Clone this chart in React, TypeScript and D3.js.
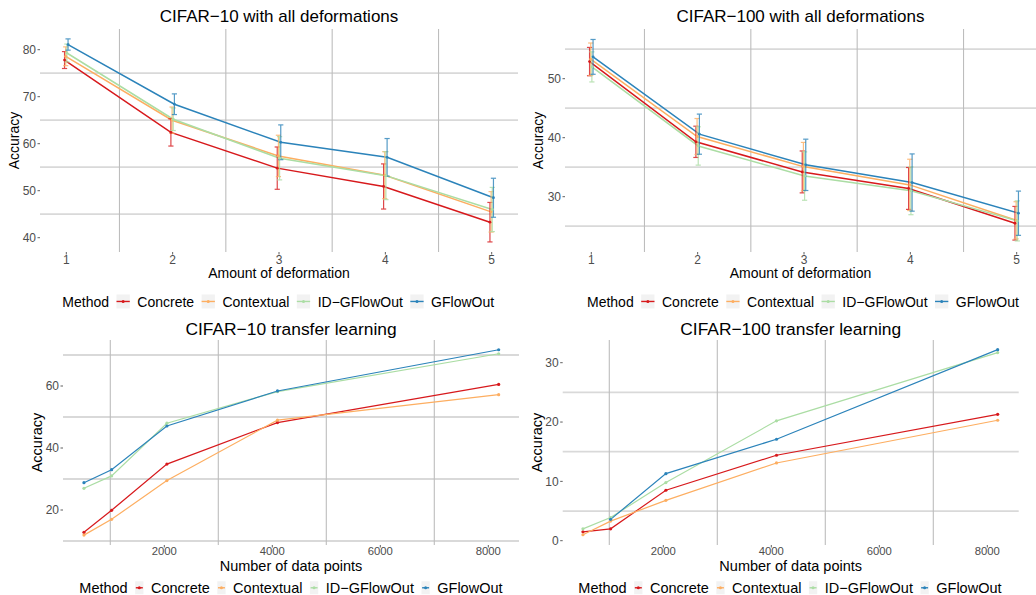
import React from "react";
import * as d3 from "d3";

// ---------- data ----------
const methods = ["Concrete", "Contextual", "ID\u2212GFlowOut", "GFlowOut"];
const methodColors = ["#D7191C", "#FDAE61", "#ABDDA4", "#2B83BA"];

const deformationLevels = [1, 2, 3, 4, 5];
const deformationTicks = [1, 2, 3, 4, 5];

// CIFAR-10 with all deformations (mean, half-width of error bar)
const c10DefConcrete = [77.8, 62.4, 54.8, 50.9, 43.3];
const c10DefContextual = [78.6, 65.0, 57.4, 53.3, 45.5];
const c10DefIDGFlowOut = [79.3, 65.2, 56.9, 53.2, 46.0];
const c10DefGFlowOut = [81.1, 68.4, 60.3, 57.1, 48.5];
const c10DefErrConcrete = [1.8, 2.9, 4.5, 4.8, 4.2];
const c10DefErrContextual = [2.0, 2.8, 4.4, 5.0, 4.3];
const c10DefErrIDGFlowOut = [1.9, 2.4, 4.6, 5.1, 4.7];
const c10DefErrGFlowOut = [1.2, 2.2, 3.7, 4.0, 4.15];

// CIFAR-100 with all deformations
const c100DefConcrete = [52.9, 39.3, 34.2, 31.4, 25.5];
const c100DefContextual = [53.3, 40.2, 35.1, 32.0, 26.0];
const c100DefIDGFlowOut = [52.0, 38.6, 33.5, 31.0, 25.9];
const c100DefGFlowOut = [53.7, 40.6, 35.4, 32.4, 27.2];
const c100DefErrConcrete = [2.4, 2.65, 3.55, 3.55, 2.85];
const c100DefErrContextual = [2.75, 3.05, 4.1, 4.35, 3.15];
const c100DefErrIDGFlowOut = [2.55, 3.25, 4.1, 4.05, 3.4];
const c100DefErrGFlowOut = [2.95, 3.4, 4.35, 4.85, 3.75];

// Transfer learning
const dataPoints = [512, 1024, 2048, 4096, 8192];
const dataPointTicks = [2000, 4000, 6000, 8000];

const c10TrConcrete = [12.8, 19.9, 34.8, 48.2, 60.5];
const c10TrContextual = [11.9, 17.0, 29.5, 49.0, 57.2];
const c10TrIDGFlowOut = [27.0, 31.0, 48.0, 58.2, 70.4];
const c10TrGFlowOut = [28.8, 33.0, 47.1, 58.4, 71.7];

const c100TrConcrete = [1.5, 2.0, 8.5, 14.4, 21.3];
const c100TrContextual = [1.0, 3.3, 6.8, 13.1, 20.3];
const c100TrIDGFlowOut = [2.0, 3.9, 9.8, 20.2, 31.7];
const c100TrGFlowOut = [null, 3.6, 11.3, 17.1, 32.2];

const c10DefYTicks = [40, 50, 60, 70, 80];
const c100DefYTicks = [30, 40, 50];
const c10TrYTicks = [20, 40, 60];
const c100TrYTicks = [0, 10, 20, 30];

const deformGrid = [1.5, 2.5, 3.5, 4.5];
const transferGrid = [1000, 3000, 5000, 7000];
const c10DefHGrid = [45, 55, 65, 75];
const c100DefHGrid = [25, 35, 45, 55];
const c10TrHGrid = [10, 30, 50, 70];
const c100TrHGrid = [5, 15, 25];

const titles = [
  "CIFAR\u221210 with all deformations",
  "CIFAR\u2212100 with all deformations",
  "CIFAR\u221210 transfer learning",
  "CIFAR\u2212100 transfer learning",
];

// ---------- helpers ----------
const FONT = '"Liberation Sans", Arial, Helvetica, sans-serif';
let measureCtx: CanvasRenderingContext2D | null = null;
function textWidth(s: string, size: number) {
  if (!measureCtx) measureCtx = document.createElement("canvas").getContext("2d");
  if (!measureCtx) return s.length * size * 0.55;
  measureCtx.font = `${size}px ${FONT}`;
  return measureCtx.measureText(s).width;
}

type Series = { name: string; color: string; values: (number | null)[]; err?: number[] };

function Legend({ x, baseline, size, keyW, keyH, lineLen }: any) {
  const gap = 7.5;
  let cur = x;
  const items: any[] = [];
  const mW = textWidth("Method", size);
  items.push(
    <text key="m" x={cur} y={baseline} fontSize={size} fill="#000">Method</text>
  );
  cur += mW + gap;
  methods.forEach((m, i) => {
    const kx = cur;
    const cy = baseline - size * 0.36;
    items.push(
      <g key={m}>
        <rect x={kx} y={cy - keyH / 2} width={keyW} height={keyH} fill="#f2f2f2" />
        <line x1={kx + keyW / 2 - lineLen / 2} x2={kx + keyW / 2 + lineLen / 2} y1={cy} y2={cy}
          stroke={methodColors[i]} strokeWidth={1.4} />
        <circle cx={kx + keyW / 2} cy={cy} r={1.5} fill={methodColors[i]} />
        <text x={kx + keyW + gap} y={baseline} fontSize={size} fill="#000">{m}</text>
      </g>
    );
    cur = kx + keyW + gap + textWidth(m, size) + gap;
  });
  return <g>{items}</g>;
}

function Panel(p: any) {
  const x = d3.scaleLinear().domain(p.xCal).range(p.xPx);
  const y = d3.scaleLinear().domain(p.yCal).range(p.yPx);
  const series: Series[] = p.series;
  const n = series.length;
  const dodge = p.dodge || 0;
  const off = (i: number) => (i - (n - 1) / 2) * dodge;
  const cx = (p.x0 + p.x1) / 2;
  const cyTitle = (p.y0 + p.y1) / 2;
  const fmt = d3.format("d");
  return (
    <g fontFamily={FONT}>
      {/* gridlines */}
      {p.hGrid.map((v: number) => (
        <line key={"h" + v} x1={p.x0} x2={p.x1} y1={y(v)} y2={y(v)} stroke="#d9d9d9" strokeWidth={1.8} />
      ))}
      {p.vGrid.map((v: number) => (
        <line key={"v" + v} x1={x(v)} x2={x(v)} y1={p.y0} y2={p.y1} stroke="#bdbdbd" strokeWidth={1.1} />
      ))}
      {/* ticks */}
      {p.yTicks.map((v: number) => (
        <g key={"yt" + v}>
          <line x1={p.x0 - 2.5} x2={p.x0} y1={y(v)} y2={y(v)} stroke="#4d4d4d" strokeWidth={0.9} />
          <text x={p.x0 - 4} y={y(v)} dy="0.36em" textAnchor="end" fontSize={12} fill="#4d4d4d">{fmt(v)}</text>
        </g>
      ))}
      {p.xTicks.map((v: number) => (
        <g key={"xt" + v}>
          <line x1={x(v)} x2={x(v)} y1={p.y1} y2={p.y1 + 2.5} stroke="#4d4d4d" strokeWidth={0.9} />
          <text x={x(v)} y={p.y1 + p.xTickDy} textAnchor="middle" fontSize={p.xTickSize} fill="#4d4d4d">{fmt(v)}</text>
        </g>
      ))}
      {/* series lines */}
      {series.map((s, i) => {
        const pts = p.xs.map((xv: number, j: number) => [x(xv + off(i)), s.values[j] == null ? null : y(s.values[j] as number)]);
        const line = d3.line<any>().defined((d) => d[1] != null).x((d) => d[0]).y((d) => d[1]);
        return <path key={"l" + i} d={line(pts) || ""} fill="none" stroke={s.color} strokeWidth={p.lineWidth} />;
      })}
      {/* error bars */}
      {series.map((s, i) =>
        s.err ? (
          <g key={"e" + i} stroke={s.color} strokeWidth={1.2} opacity={0.8}>
            {p.xs.map((xv: number, j: number) => {
              const v = s.values[j] as number;
              const e = s.err![j];
              const px = x(xv + off(i));
              return (
                <g key={j}>
                  <line x1={px} x2={px} y1={y(v - e)} y2={y(v + e)} />
                  <line x1={px - 2.6} x2={px + 2.6} y1={y(v - e)} y2={y(v - e)} />
                  <line x1={px - 2.6} x2={px + 2.6} y1={y(v + e)} y2={y(v + e)} />
                </g>
              );
            })}
          </g>
        ) : null
      )}
      {/* points */}
      {series.map((s, i) => (
        <g key={"p" + i} fill={s.color}>
          {p.xs.map((xv: number, j: number) =>
            s.values[j] == null ? null : (
              <circle key={j} cx={x(xv + off(i))} cy={y(s.values[j] as number)} r={p.pointR} />
            )
          )}
        </g>
      ))}
      {/* titles */}
      <text x={cx} y={p.titleY} textAnchor="middle" fontSize={p.titleSize} fill="#000">{p.title}</text>
      <text x={cx} y={p.xTitleY} textAnchor="middle" fontSize={p.axisSize} fill="#000">{p.xTitle}</text>
      <text transform={`translate(${p.yTitleX},${cyTitle}) rotate(-90)`} textAnchor="middle" fontSize={p.axisSize} fill="#000">Accuracy</text>
      <Legend {...p.legend} />
    </g>
  );
}

function mk(vals: (number | null)[][], errs?: number[][]): Series[] {
  return methods.map((m, i) => ({ name: m, color: methodColors[i], values: vals[i], err: errs ? errs[i] : undefined }));
}

export default function App() {
  const topLegend = { size: 14, keyW: 13.3, keyH: 14, lineLen: 13.3 };
  const botLegend = { size: 14.5, keyW: 8.3, keyH: 13, lineLen: 7 };
  return (
    <svg width={1036} height={595} style={{ position: "absolute", left: 0, top: 0, background: "#fff" }}>
      <rect width={1036} height={595} fill="#fff" />
      <Panel
        x0={40} x1={518} y0={29} y1={252}
        xCal={[1, 5]} xPx={[66.3, 491.7]} yCal={[40, 80]} yPx={[237.7, 49.7]}
        xTicks={deformationTicks} yTicks={c10DefYTicks} hGrid={c10DefHGrid} vGrid={deformGrid}
        xTickSize={12} xTickDy={11.5}
        xs={deformationLevels} dodge={0.011} lineWidth={1.5} pointR={1.4}
        series={mk([c10DefConcrete, c10DefContextual, c10DefIDGFlowOut, c10DefGFlowOut],
          [c10DefErrConcrete, c10DefErrContextual, c10DefErrIDGFlowOut, c10DefErrGFlowOut])}
        title={titles[0]} titleY={22} titleSize={17}
        xTitle="Amount of deformation" xTitleY={278} axisSize={14} yTitleX={18.5}
        legend={{ ...topLegend, x: 62.3, baseline: 306.5 }}
      />
      <Panel
        x0={565} x1={1036} y0={29} y1={252}
        xCal={[1, 5]} xPx={[591.3, 1016.7]} yCal={[30, 50]} yPx={[196.7, 78.7]}
        xTicks={deformationTicks} yTicks={c100DefYTicks} hGrid={c100DefHGrid} vGrid={deformGrid}
        xTickSize={12} xTickDy={11.5}
        xs={deformationLevels} dodge={0.011} lineWidth={1.5} pointR={1.4}
        series={mk([c100DefConcrete, c100DefContextual, c100DefIDGFlowOut, c100DefGFlowOut],
          [c100DefErrConcrete, c100DefErrContextual, c100DefErrIDGFlowOut, c100DefErrGFlowOut])}
        title={titles[1]} titleY={22} titleSize={17}
        xTitle="Amount of deformation" xTitleY={278} axisSize={14} yTitleX={543}
        legend={{ ...topLegend, x: 587, baseline: 306.5 }}
      />
      <Panel
        x0={63} x1={519} y0={340} y1={545}
        xCal={[2000, 8000]} xPx={[164.3, 488.3]} yCal={[20, 60]} yPx={[510, 386]}
        xTicks={dataPointTicks} yTicks={c10TrYTicks} hGrid={c10TrHGrid} vGrid={transferGrid}
        xTickSize={11.3} xTickDy={10}
        xs={dataPoints} dodge={0} lineWidth={1.2} pointR={1.6}
        series={mk([c10TrConcrete, c10TrContextual, c10TrIDGFlowOut, c10TrGFlowOut])}
        title={titles[2]} titleY={335} titleSize={17.4}
        xTitle="Number of data points" xTitleY={570.5} axisSize={14.5} yTitleX={42}
        legend={{ ...botLegend, x: 79.3, baseline: 593 }}
      />
      <Panel
        x0={562.7} x1={1018.7} y0={340} y1={545}
        xCal={[2000, 8000]} xPx={[663.3, 987.3]} yCal={[0, 30]} yPx={[540.7, 362.7]}
        xTicks={dataPointTicks} yTicks={c100TrYTicks} hGrid={c100TrHGrid} vGrid={transferGrid}
        xTickSize={11.3} xTickDy={10}
        xs={dataPoints} dodge={0} lineWidth={1.2} pointR={1.6}
        series={mk([c100TrConcrete, c100TrContextual, c100TrIDGFlowOut, c100TrGFlowOut])}
        title={titles[3]} titleY={335} titleSize={17.4}
        xTitle="Number of data points" xTitleY={570.5} axisSize={14.5} yTitleX={542}
        legend={{ ...botLegend, x: 578.3, baseline: 593 }}
      />
    </svg>
  );
}
